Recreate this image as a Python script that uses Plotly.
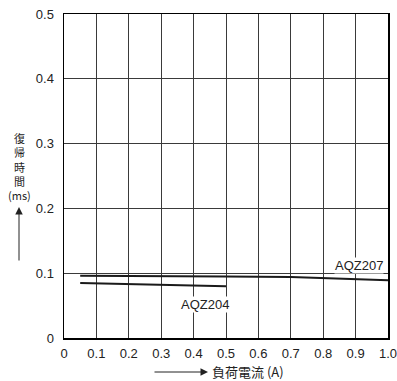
import plotly.graph_objects as go

# Data (load current A vs release time ms)
aqz207_x = [0.05, 0.3, 0.5, 0.7, 0.8, 0.9, 1.0]
aqz207_y = [0.096, 0.0958, 0.095, 0.094, 0.0925, 0.091, 0.089]
aqz204_x = [0.05, 0.2, 0.3, 0.4, 0.5]
aqz204_y = [0.0848, 0.0835, 0.082, 0.081, 0.080]

x_ticks = [0, 0.1, 0.2, 0.3, 0.4, 0.5, 0.6, 0.7, 0.8, 0.9, 1.0]
x_ticktext = ["0", "0.1", "0.2", "0.3", "0.4", "0.5", "0.6", "0.7", "0.8", "0.9", "1.0"]
y_ticks = [0, 0.1, 0.2, 0.3, 0.4, 0.5]
y_ticktext = ["0", "0.1", "0.2", "0.3", "0.4", "0.5"]
y_title = "復<br>帰<br>時<br>間<br>(ms)"
x_title = "負荷電流 (A)"

FONT = "Liberation Sans, Arial, sans-serif"
CJK = "Noto Sans CJK JP, sans-serif"

# plot area in window pixels: x 64..388, y 14..338 (body margin removed below)
PW, PH = 324, 324
L, T = 64, 14
W, H = 397, 381
R = W - L - PW
B = H - T - PH


def px(xw):  # window x -> paper x
    return (xw - L) / PW


def py(yw):  # window y -> paper y
    return (T + PH - yw) / PH


fig = go.Figure()
fig.add_trace(go.Scatter(x=aqz207_x, y=aqz207_y, mode="lines",
                         line=dict(color="#1a1a1a", width=2), showlegend=False))
fig.add_trace(go.Scatter(x=aqz204_x, y=aqz204_y, mode="lines",
                         line=dict(color="#1a1a1a", width=2), showlegend=False))

fig.add_annotation(x=0.91, y=0.1115, text="AQZ207", showarrow=False,
                   font=dict(family=FONT, size=13, color="#222"), bgcolor="white",
                   borderpad=0)
fig.add_annotation(x=0.435, y=0.051, text="AQZ204", showarrow=False,
                   font=dict(family=FONT, size=13, color="#222"), bgcolor="white",
                   borderpad=0)

# Y axis title (vertical stacked)
fig.add_annotation(xref="paper", yref="paper", x=px(19.5), y=py(166),
                   xanchor="center", yanchor="middle", text=y_title, showarrow=False,
                   align="center", font=dict(family=CJK, size=11, color="#222"))
# Y arrow
fig.add_annotation(xref="paper", yref="paper", x=px(19), y=py(207),
                   ax=0, ay=55, text="", showarrow=True, arrowhead=2,
                   arrowsize=1.5, arrowwidth=1, arrowcolor="#222")
# X arrow
fig.add_annotation(xref="paper", yref="paper", x=px(208), y=py(372),
                   ax=-55, ay=0, text="", showarrow=True, arrowhead=2,
                   arrowsize=1.5, arrowwidth=1, arrowcolor="#222")
fig.add_annotation(xref="paper", yref="paper", x=px(210), y=py(371), xanchor="left",
                   yanchor="middle", text=x_title, showarrow=False,
                   font=dict(family=CJK, size=13, color="#222"))

axis_common = dict(showline=True, linecolor="black", linewidth=1.5, mirror=True,
                   showgrid=True, gridcolor="#3a3a3a", gridwidth=1, zeroline=False,
                   ticks="", ticklabeloverflow="allow",
                   tickfont=dict(family=FONT, size=13, color="#222"))

fig.update_xaxes(range=[0, 1.0], tickvals=x_ticks, ticktext=x_ticktext,
                 ticklabelstandoff=3, **axis_common)
fig.update_yaxes(range=[0, 0.5], tickvals=y_ticks, ticktext=y_ticktext,
                 ticklabelstandoff=6, **axis_common)

fig.update_layout(width=W, height=H,
                  margin=dict(l=L, r=R, t=T, b=B, autoexpand=False),
                  plot_bgcolor="white", paper_bgcolor="white")

fig.write_html("out.html",
               config={"displayModeBar": False, "staticPlot": True},
               post_script="document.body.style.margin='0';"
                           "document.body.style.overflow='hidden';")
